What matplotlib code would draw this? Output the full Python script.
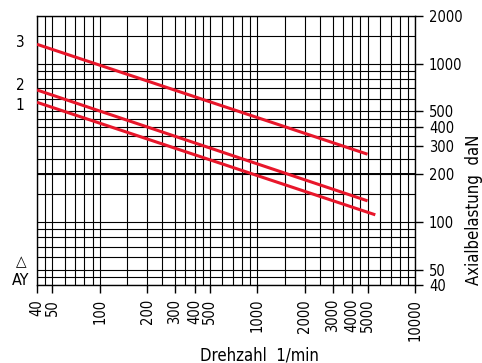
import matplotlib
matplotlib.use('Agg')
import matplotlib.pyplot as plt
from matplotlib.ticker import FixedLocator, NullFormatter

plt.rcParams['font.family'] = ['DejaVu Sans']
plt.rcParams['font.stretch'] = 'condensed'

# speed range and curve data (rpm -> axial load daN)
curve_labels = ['1', '2', '3']
curve_rpm = [[40, 5600], [40, 5000], [40, 5000]]
curve_load = [[570, 111], [682, 136], [1325, 268]]
label_shift = [-2, 3, 1]

x_major = [40, 50, 100, 200, 300, 400, 500, 1000, 2000, 3000, 4000, 5000, 10000]
x_grid = [40, 45, 50, 60, 70, 80, 90, 100, 150, 200, 250, 300, 350, 400, 450,
          500, 600, 700, 800, 900, 1000, 1500, 2000, 2500, 3000, 3500, 4000,
          4500, 5000, 6000, 7000, 8000, 9000, 10000]
y_major = [40, 50, 100, 200, 300, 400, 500, 1000, 2000]
y_grid = [40, 45, 50, 60, 70, 80, 90, 100, 150, 200, 250, 300, 350, 400, 450,
          500, 600, 700, 800, 900, 1000, 1500, 2000]

W, H = 482, 363
fig = plt.figure(figsize=(W / 100, H / 100), dpi=100)
ax = fig.add_axes([37 / W, 1 - 285 / H, (415 - 37) / W, (285 - 16) / H])

ax.set_xscale('log')
ax.set_yscale('log')
ax.set_xlim(40, 10000)
ax.set_ylim(40, 2000)

ax.xaxis.set_major_locator(FixedLocator(x_major))
ax.xaxis.set_minor_locator(FixedLocator(x_grid))
ax.yaxis.set_major_locator(FixedLocator(y_major))
ax.yaxis.set_minor_locator(FixedLocator(y_grid))
ax.xaxis.set_minor_formatter(NullFormatter())
ax.yaxis.set_minor_formatter(NullFormatter())
ax.set_xticklabels([str(v) for v in x_major], rotation=90, va='top')
ax.set_yticklabels([str(v) for v in y_major])
ax.yaxis.tick_right()

ax.tick_params(which='major', length=6, width=1, labelsize=10.5, pad=4)
ax.tick_params(axis='y', which='major', pad=4)
ax.tick_params(which='minor', length=0)
ax.grid(which='both', color='black', linewidth=0.8)
ax.axhline(200, color='black', linewidth=1.4)
for s in ax.spines.values():
    s.set_linewidth(1)

for lab, xs, ys, dy in zip(curve_labels, curve_rpm, curve_load, label_shift):
    ax.plot(xs, ys, color='#e8162a', linewidth=2.2, solid_capstyle='butt', zorder=5)
    ax.annotate(lab, xy=(xs[0], ys[0]), xytext=(-9, dy), textcoords='offset points',
                ha='right', va='center', fontsize=11)

fig.text(21.5 / W, 1 - 266 / H, '△', ha='center', va='baseline', fontsize=11)
fig.text(20.5 / W, 1 - 285 / H, 'AY', ha='center', va='baseline', fontsize=11.5)

fig.text(259 / W, 1 - 355 / H, 'Drehzahl  1/min', ha='center', va='center', fontsize=12)
fig.text(474 / W, 1 - 285 / H, 'Axialbelastung  daN', rotation=90,
         ha='center', va='bottom', fontsize=12)

fig.savefig('out.png', dpi=100)
